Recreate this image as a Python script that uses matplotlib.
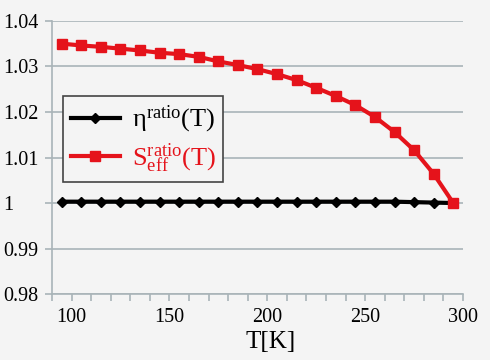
import matplotlib
matplotlib.use('Agg')
import matplotlib.pyplot as plt
from matplotlib.ticker import MultipleLocator

plt.rcParams['font.family'] = 'Liberation Serif'
plt.rcParams['mathtext.fontset'] = 'custom'
plt.rcParams['mathtext.rm'] = 'Liberation Serif'
plt.rcParams['mathtext.it'] = 'Liberation Serif'

# data
temps = [95, 105, 115, 125, 135, 145, 155, 165, 175, 185, 195,
         205, 215, 225, 235, 245, 255, 265, 275, 285, 295]
eta_ratio = [1.0003, 1.0003, 1.0003, 1.0003, 1.0003, 1.0003, 1.0003,
             1.0003, 1.0003, 1.0003, 1.0003, 1.0003, 1.0003, 1.0003,
             1.0003, 1.0003, 1.0003, 1.0003, 1.0002, 1.0001, 1.0]
seff_ratio = [1.0350, 1.0346, 1.0343, 1.0339, 1.0335, 1.0330, 1.0327,
              1.0321, 1.0311, 1.0303, 1.0294, 1.0283, 1.0270, 1.0253,
              1.0235, 1.0215, 1.0189, 1.0156, 1.0116, 1.0064, 1.0000]
y_ticks = [0.98, 0.99, 1.0, 1.01, 1.02, 1.03, 1.04]
y_ticklabels = ['0.98', '0.99', '1', '1.01', '1.02', '1.03', '1.04']

bg = '#f4f4f4'
grid_col = '#a9b4b8'
red = '#e5131b'

fig = plt.figure(figsize=(4.9, 3.6), dpi=100, facecolor=bg)
ax = fig.add_axes([0.106, 0.183, 0.839, 0.759], facecolor=bg)

ax.plot(temps, eta_ratio, color='black', lw=3, marker='D', ms=5,
        label=r'η$^{\mathrm{ratio}}$(T)', zorder=3)
ax.plot(temps, seff_ratio, color=red, lw=3, marker='s', ms=6.5,
        label=r'S$_{\mathrm{eff}}^{\mathrm{ratio}}$(T)', zorder=4)

ax.set_xlim(90, 300)
ax.set_ylim(0.98, 1.04)
ax.xaxis.set_major_locator(MultipleLocator(50))
ax.xaxis.set_minor_locator(MultipleLocator(10))
ax.set_yticks(y_ticks)
ax.set_yticklabels(y_ticklabels)

ax.grid(axis='y', color=grid_col, lw=1.2)
ax.set_axisbelow(True)
for s in ['top', 'right']:
    ax.spines[s].set_visible(False)
for s in ['left', 'bottom']:
    ax.spines[s].set_color(grid_col)
    ax.spines[s].set_linewidth(1.2)
ax.tick_params(which='both', direction='out', color=grid_col, width=1.2,
               length=5, labelsize=14.5, labelcolor='black')
ax.tick_params(axis='x', pad=5)
ax.tick_params(axis='y', pad=30)
for lab in ax.get_yticklabels():
    lab.set_horizontalalignment('left')

ax.set_xlabel('T[K]', fontsize=18, labelpad=0)
ax.xaxis.set_label_coords(0.533, -0.135)

leg = ax.legend(loc='upper left', bbox_to_anchor=(0.027, 0.725), fontsize=19,
                frameon=True, fancybox=False, edgecolor='#444444',
                facecolor=bg, framealpha=1, handlelength=1.85,
                borderpad=0.3, labelspacing=0.2, handletextpad=0.45,
                borderaxespad=0)
leg.get_frame().set_linewidth(1.2)
leg.get_texts()[1].set_color(red)

fig.savefig('out.png', dpi=100, facecolor=bg)
